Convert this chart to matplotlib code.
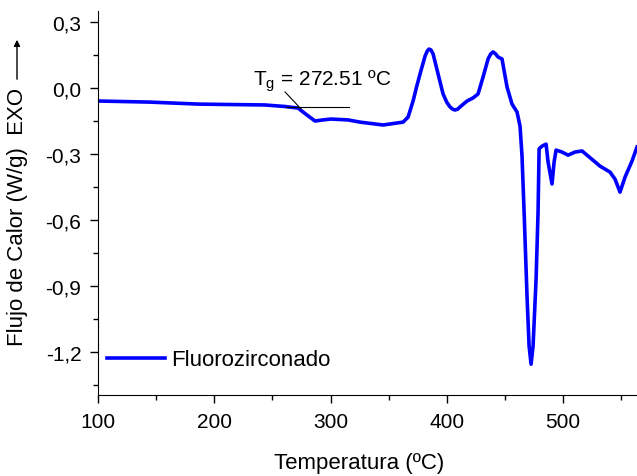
import numpy as np
import matplotlib
matplotlib.use("Agg")
import matplotlib.pyplot as plt

plt.rcParams['font.family'] = ['Liberation Sans', 'DejaVu Sans']

# curve (temperature in C, heat flow in W/g)
temp = [100.0, 144.7, 186.0, 213.5, 243.6, 260.8, 272.0, 279.8, 286.7, 293.5,
        300.4, 315.1, 325.4, 345.2, 362.4, 366.7, 371.0, 374.0, 377.0, 381.3, 383.2,
        384.7, 386.4, 388.2, 392.5, 396.8, 400.0, 402.8, 405.0, 407.1, 409.3, 411.4,
        417.4, 422.6, 426.9, 431.2,
        435.5, 437.8, 439.8, 442.0, 444.1, 447.5, 451.8, 456.1, 460.4, 463.0, 464.7,
        466.5, 469.0, 470.8, 472.5, 474.2, 476.8, 478.5, 479.4, 481.9, 485.4, 487.1,
        490.5, 492.3, 494.0, 499.1, 504.3, 510.3, 516.3, 521.5, 531.8, 540.4,
        544.7, 549.0, 553.3, 559.3, 563.6]
flujo = [-0.059, -0.064, -0.073, -0.075, -0.077, -0.084, -0.091, -0.123, -0.150, -0.145,
         -0.141, -0.145, -0.155, -0.168, -0.155, -0.132, -0.059, 0.005, 0.064, 0.145, 0.168,
         0.177, 0.173, 0.155, 0.064, -0.027, -0.065, -0.086, -0.096, -0.100, -0.096, -0.086,
         -0.059, -0.045, -0.027, 0.050,
         0.132, 0.155, 0.164, 0.155, 0.141, 0.132, 0.005, -0.073, -0.109, -0.173, -0.309,
         -0.564, -0.945, -1.173, -1.255, -1.173, -0.868, -0.564, -0.277, -0.264, -0.255, -0.336,
         -0.436, -0.336, -0.282, -0.291, -0.305, -0.291, -0.286, -0.309, -0.355, -0.382,
         -0.414, -0.473, -0.405, -0.332, -0.268]

xticks = [100, 200, 300, 400, 500]
yticks = [0.3, 0.0, -0.3, -0.6, -0.9, -1.2]
yticks_text = ["0,3", "0,0", "-0,3", "-0,6", "-0,9", "-1,2"]

tg_text = r"T$_\mathregular{g}$ = 272.51 ºC"
tg_tangent_x = [261.7, 315.9]
tg_tangent_y = [-0.086, -0.086]
tg_pointer_x = [260.9, 274.6]
tg_pointer_y = [-0.018, -0.095]

fig = plt.figure(figsize=(6.37, 4.77), dpi=100)
ax = fig.add_axes([98 / 637, 1 - 396 / 477, 539 / 637, 384 / 477])

ax.plot(temp, flujo, color="#0000ff", lw=2.6, label="Fluorozirconado")
ax.plot(tg_tangent_x, tg_tangent_y, color="black", lw=0.8)
ax.plot(tg_pointer_x, tg_pointer_y, color="black", lw=0.8)
ax.text(233.3, 0.018, tg_text, fontsize=15, va="baseline", ha="left")

ax.set_xlim(100, 563.6)
ax.set_ylim(-1.395, 0.35)
ax.set_xticks(xticks)
ax.set_xticks(np.arange(150, 560, 100), minor=True)
ax.set_yticks(yticks, yticks_text)
ax.set_yticks(np.arange(-1.35, 0.3, 0.3), minor=True)
ax.tick_params(labelsize=15, direction="out", length=6, width=1, pad=6)
ax.tick_params(which="minor", direction="out", length=3.5, width=1)
for s in ["top", "right"]:
    ax.spines[s].set_visible(False)

ax.set_xlabel("Temperatura (ºC)", fontsize=16)
ax.xaxis.set_label_coords(261 / 539, -57 / 384)
ax.set_ylabel("Flujo de Calor (W/g)  EXO", fontsize=16)
ax.yaxis.set_label_coords(-70 / 539, 179 / 384)
ax.annotate("", xy=(17, 477 - 38), xytext=(17, 477 - 83),
            xycoords="figure pixels", textcoords="figure pixels",
            arrowprops=dict(arrowstyle="-|>", lw=1, color="black", mutation_scale=9))

ax.legend(loc="center left", bbox_to_anchor=(9 / 539, 35 / 384), frameon=False,
          fontsize=16, handlelength=2.6, handletextpad=0.3, borderpad=0, borderaxespad=0)

fig.savefig("out.png", dpi=100)
